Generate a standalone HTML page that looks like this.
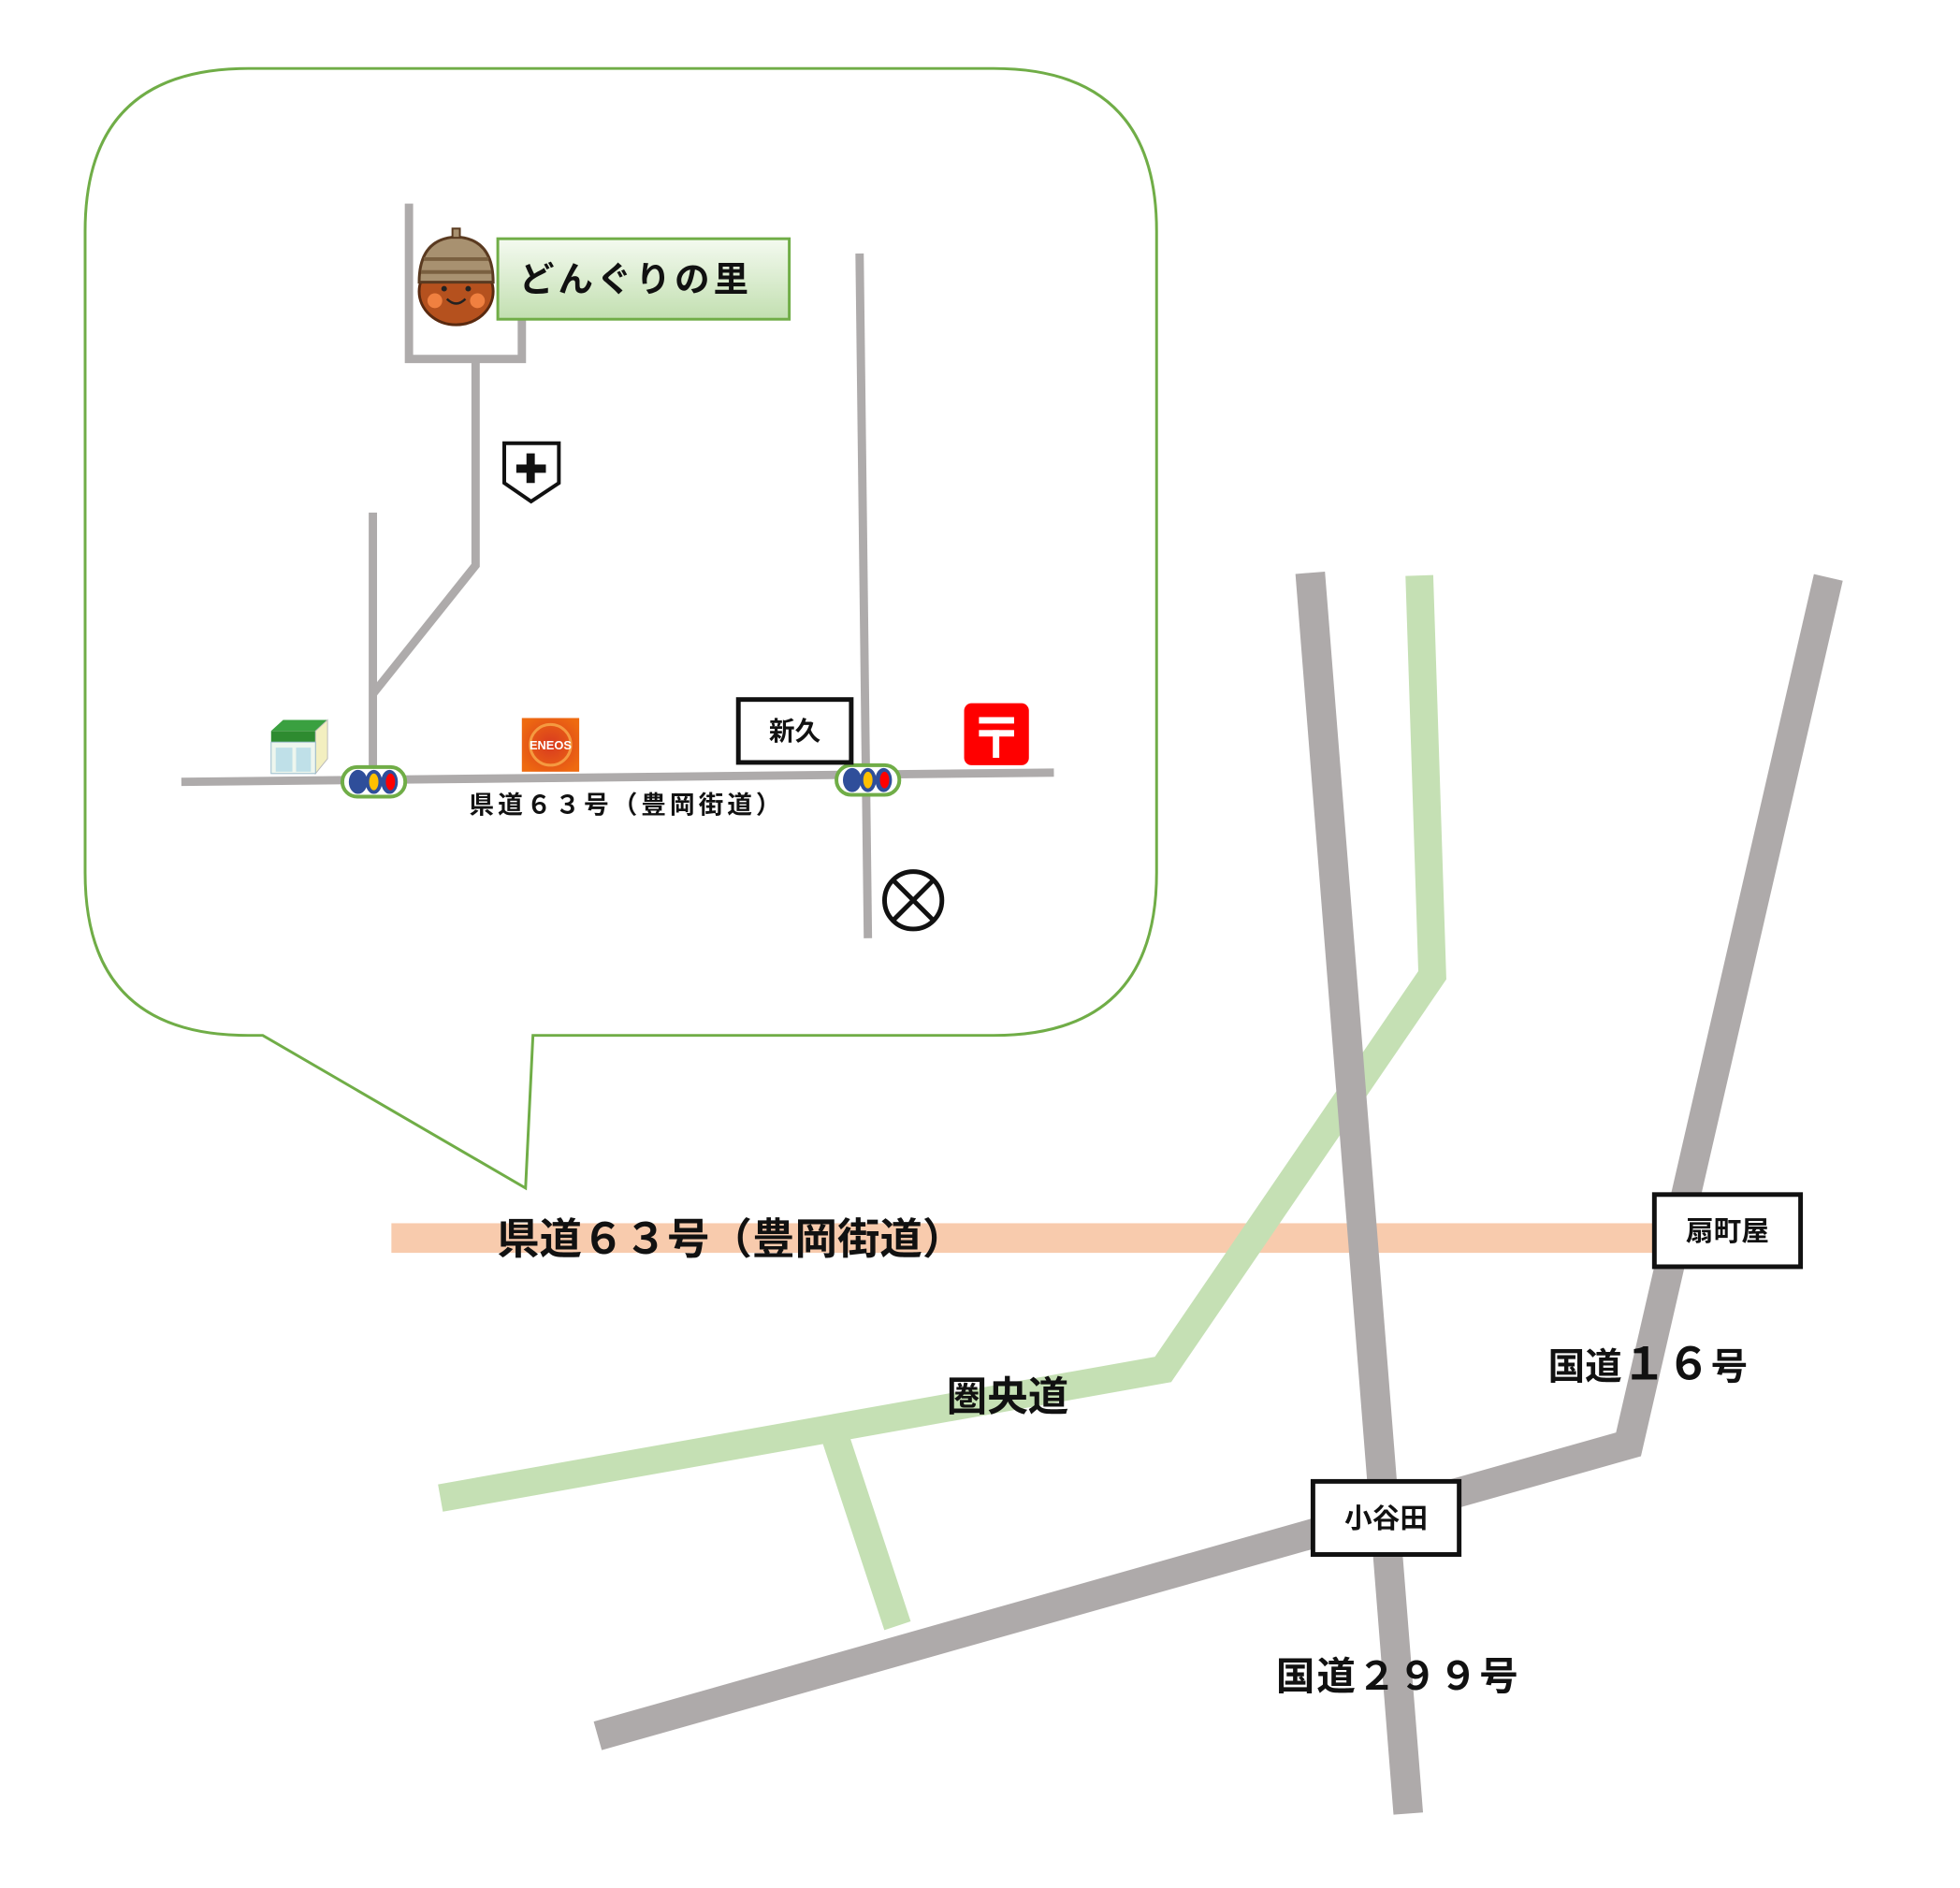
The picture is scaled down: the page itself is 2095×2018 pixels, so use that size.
<!DOCTYPE html>
<html><head><meta charset="utf-8"><style>
html,body{margin:0;padding:0;background:#fff;}
svg{display:block;}
text{font-family:"Liberation Sans","Noto Sans CJK JP",sans-serif;font-weight:bold;fill:#111;}
</style></head><body>
<svg width="2095" height="2018" viewBox="0 0 2095 2018" xmlns="http://www.w3.org/2000/svg">
<defs>
<linearGradient id="lg" x1="0" y1="0" x2="0" y2="1">
<stop offset="0" stop-color="#f4faf0"/><stop offset="1" stop-color="#c2dfb0"/>
</linearGradient>
<radialGradient id="en" cx="0.5" cy="0.5" r="0.6">
<stop offset="0" stop-color="#d83a20"/><stop offset="1" stop-color="#ee6a10"/>
</radialGradient>
</defs>
<g transform="scale(0.989)">
<path d="M268,74 H1074 Q1250,74 1250,250 V943 Q1250,1119 1074,1119 H576 L568,1284 L284,1119 H268 Q92,1119 92,943 V250 Q92,74 268,74 Z" fill="#fff" stroke="#70ad47" stroke-width="3"/>
<g stroke="#aeabab" stroke-width="9" fill="none" stroke-linejoin="miter">
<polyline points="196,845 1139,835"/>
<polyline points="403,554 403,845"/>
<polyline points="403,750 514,611 514,385"/>
<polyline points="442,220 442,388 564,388 564,345"/>
<polyline points="929,274 938,1014"/>
</g>
<g>
<ellipse cx="493" cy="315" rx="40" ry="36" fill="#b5511e" stroke="#5a2a10" stroke-width="3"/>
<path d="M453,305 Q453,258 493,256 Q533,258 533,305 Z" fill="#a89170" stroke="#5a3a20" stroke-width="3"/>
<line x1="458" y1="280" x2="528" y2="280" stroke="#7a6040" stroke-width="4"/>
<line x1="455" y1="294" x2="531" y2="294" stroke="#7a6040" stroke-width="4"/>
<rect x="489" y="247" width="8" height="10" fill="#a89170" stroke="#5a3a20" stroke-width="2"/>
<circle cx="470" cy="325" r="8" fill="#f08040"/><circle cx="516" cy="325" r="8" fill="#f08040"/>
<circle cx="480" cy="312" r="3" fill="#222"/><circle cx="506" cy="312" r="3" fill="#222"/>
<path d="M483,323 Q493,333 503,323" stroke="#222" stroke-width="2.5" fill="none"/>
</g>
<rect x="538" y="258" width="315" height="87" fill="url(#lg)" stroke="#70ad47" stroke-width="3"/>
<text x="561" y="315" font-size="38" letter-spacing="4">どんぐりの里</text>
<path d="M545,479 H604 V522 L574,542 L545,522 Z" fill="#fff" stroke="#111" stroke-width="4"/>
<rect x="558" y="502" width="32" height="9" fill="#111"/><rect x="569" y="490" width="9" height="32" fill="#111"/>
<path d="M293,790 L306,778 H354 L341,790 Z" fill="#3aa040"/>
<rect x="293" y="790" width="48" height="12" fill="#2e8b30"/>
<path d="M341,790 L354,778 V820 L341,836 Z" fill="#f3efc0" stroke="#bbb"/>
<rect x="293" y="802" width="48" height="34" fill="#eef6ee" stroke="#9bc" stroke-width="1"/>
<rect x="298" y="808" width="18" height="26" fill="#bfe0e8"/><rect x="320" y="808" width="16" height="26" fill="#bfe0e8"/>
<g>
<rect x="370" y="829" width="68" height="32" rx="16" fill="#fff" stroke="#70ad47" stroke-width="4"/>
<ellipse cx="387" cy="845" rx="10" ry="13" fill="#2f4e9a"/><ellipse cx="404" cy="845" rx="9" ry="13" fill="#2f4e9a"/><ellipse cx="421" cy="845" rx="9" ry="13" fill="#2f4e9a"/>
<ellipse cx="404" cy="845" rx="5" ry="9" fill="#ffc000"/><ellipse cx="422" cy="845" rx="5" ry="9" fill="#ff0000"/>
</g>
<g>
<rect x="904" y="827" width="68" height="32" rx="16" fill="#fff" stroke="#70ad47" stroke-width="4"/>
<ellipse cx="921" cy="843" rx="10" ry="13" fill="#2f4e9a"/><ellipse cx="938" cy="843" rx="9" ry="13" fill="#2f4e9a"/><ellipse cx="955" cy="843" rx="9" ry="13" fill="#2f4e9a"/>
<ellipse cx="938" cy="843" rx="5" ry="9" fill="#ffc000"/><ellipse cx="956" cy="843" rx="5" ry="9" fill="#ff0000"/>
</g>
<rect x="564" y="776" width="62" height="58" fill="url(#en)"/>
<circle cx="595" cy="805" r="22" fill="none" stroke="#f59a40" stroke-width="3"/>
<text x="595" y="810" font-size="13" text-anchor="middle" style="fill:#fff">ENEOS</text>
<rect x="798" y="756" width="122" height="68" fill="#fff" stroke="#111" stroke-width="5"/>
<text x="859" y="800" font-size="28" text-anchor="middle">新久</text>
<rect x="1042" y="760" width="70" height="67" rx="8" fill="#ff0000"/>
<rect x="1058" y="775" width="38" height="7" fill="#fff"/><rect x="1058" y="789" width="38" height="7" fill="#fff"/><rect x="1073" y="789" width="7" height="30" fill="#fff"/>
<circle cx="987" cy="973" r="31" fill="#fff" stroke="#111" stroke-width="5"/>
<line x1="965" y1="951" x2="1009" y2="995" stroke="#111" stroke-width="5"/>
<line x1="1009" y1="951" x2="965" y2="995" stroke="#111" stroke-width="5"/>
<text x="507" y="879" font-size="27" letter-spacing="4">県道６３号（豊岡街道）</text>
<rect x="423" y="1322" width="1375" height="32" fill="#f8cbad"/>
<g stroke="#c5e0b4" stroke-width="30" fill="none" stroke-linejoin="miter">
<polyline points="1534,622 1548,1054 1257,1480 476,1619"/>
<polyline points="903,1554 970,1757"/>
</g>
<g stroke="#aeaaaa" stroke-width="32" fill="none" stroke-linejoin="miter">
<polyline points="1416,619 1522,1960"/>
<polyline points="1976,624 1760,1561 646,1876"/>
</g>
<text x="537" y="1355" font-size="46">県道６３号（豊岡街道）</text>
<rect x="1788" y="1291" width="158" height="78" fill="#fff" stroke="#111" stroke-width="5"/>
<text x="1867" y="1341" font-size="30" text-anchor="middle">扇町屋</text>
<rect x="1419" y="1601" width="158" height="79" fill="#fff" stroke="#111" stroke-width="5"/>
<text x="1498" y="1651" font-size="30" text-anchor="middle">小谷田</text>
<text x="1673" y="1491" font-size="40">国道<tspan font-size="48">１６</tspan>号</text>
<text x="1023" y="1525" font-size="44">圏央道</text>
<text x="1379" y="1826" font-size="42" letter-spacing="2">国道２９９号</text>
</g>
</svg>
</body></html>
